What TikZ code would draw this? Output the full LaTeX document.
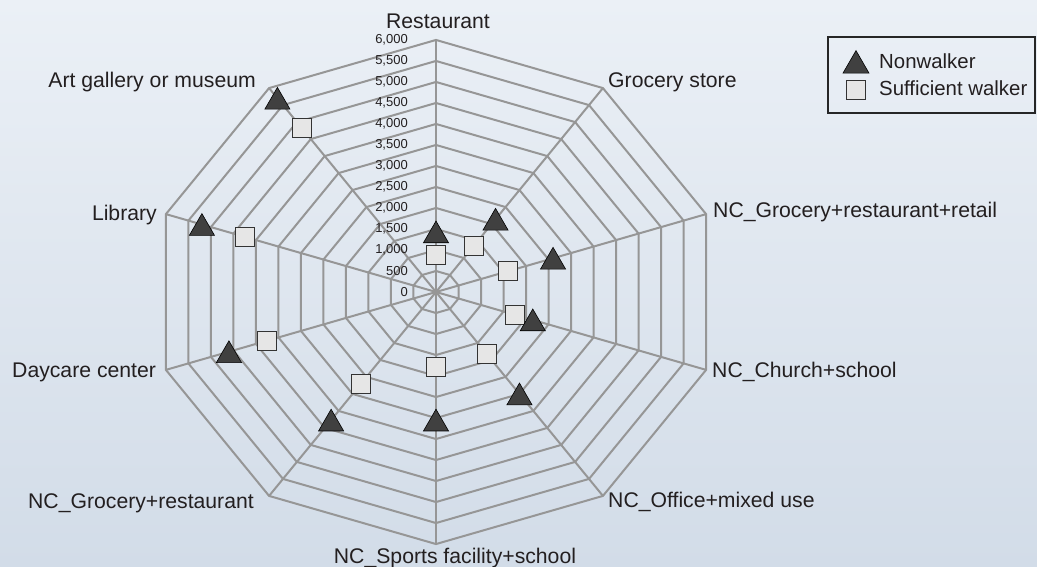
\documentclass[tikz,border=0pt]{standalone}
\usepackage{fontspec}
\setmainfont{Liberation Sans}
\usetikzlibrary{shapes.geometric}
\definecolor{bgtop}{RGB}{235,240,246}
\definecolor{bgbot}{RGB}{210,220,232}
\definecolor{gridc}{RGB}{150,150,150}
\definecolor{trifill}{RGB}{64,64,64}
\definecolor{sqfill}{RGB}{230,230,230}
\definecolor{txt}{RGB}{35,31,32}
\tikzset{
  gridline/.style={draw=gridc, line width=2pt, line join=miter},
  tri/.style={regular polygon, regular polygon sides=3, minimum size=29pt, inner sep=0pt, fill=trifill, draw=black, line width=0.6pt, yshift=-3.6pt},
  sq/.style={rectangle, minimum size=19pt, inner sep=0pt, fill=sqfill, draw=black!80, line width=1pt},
  axlabel/.style={font=\fontsize{21.2}{25}\selectfont, text=txt, inner sep=0pt},
  legendtext/.style={font=\fontsize{20.4}{24}\selectfont, text=txt, inner sep=0pt, anchor=base west},
  ticklabel/.style={font=\fontsize{13}{15}\selectfont, text=txt, anchor=east, inner sep=0pt},
  legendbox/.style={draw=black!85, line width=1.6pt}
}
\begin{document}
\begin{tikzpicture}[x=1pt,y=-1pt]
\shade[top color=bgtop,bottom color=bgbot] (0,0) rectangle (1037,567);
\useasboundingbox (0,0) rectangle (1037,567);
\begin{scope}[shift={(436,292)}, x={(0.047333pt,0pt)}, y={(0pt,0.042pt)}]
  \coordinate (c) at (0,0);
  \foreach \r in {500,1000,...,6000}{
    \draw[gridline] (90:\r) \foreach \i in {1,...,9}{ -- (90-\i*36:\r)} -- cycle;
  }
  \foreach \i in {0,...,9}{
    \coordinate (ax\i) at (90-\i*36:6000);
    \draw[gridline] (c) -- (ax\i);
  }
  \foreach \v/\t in {0/0,500/500,1000/{1,000},1500/{1,500},2000/{2,000},2500/{2,500},3000/{3,000},3500/{3,500},4000/{4,000},4500/{4,500},5000/{5,000},5500/{5,500},6000/{6,000}}{
    \node[ticklabel] (t\v) at ([xshift=-28pt]90:\v) {\t};
  }
  % Sufficient walker
  \node[sq] (s0) at (90:880) {};
  \node[sq] (s1) at (54:1355) {};
  \node[sq] (s2) at (18:1590) {};
  \node[sq] (s3) at (-18:1750) {};
  \node[sq] (s4) at (-54:1820) {};
  \node[sq] (s5) at (-90:1790) {};
  \node[sq] (s6) at (-126:2700) {};
  \node[sq] (s7) at (198:3750) {};
  \node[sq] (s8) at (162:4250) {};
  \node[sq] (s9) at (126:4820) {};
  % Nonwalker
  \node[tri] (n0) at (90:1430) {};
  \node[tri] (n1) at (54:2140) {};
  \node[tri] (n2) at (18:2600) {};
  \node[tri] (n3) at (-18:2150) {};
  \node[tri] (n4) at (-54:3000) {};
  \node[tri] (n5) at (-90:3050) {};
  \node[tri] (n6) at (-126:3770) {};
  \node[tri] (n7) at (198:4600) {};
  \node[tri] (n8) at (162:5200) {};
  \node[tri] (n9) at (126:5700) {};
\end{scope}
% axis labels
\node[axlabel, anchor=base] (l0) at (438,29) {Restaurant};
\node[axlabel, anchor=base west] (l1) at (608,88) {Grocery store};
\node[axlabel, anchor=base west] (l2) at (713,218) {NC\_Grocery+restaurant+retail};
\node[axlabel, anchor=base west] (l3) at (712,377) {NC\_Church+school};
\node[axlabel, anchor=base west] (l4) at (608,507) {NC\_Office+mixed use};
\node[axlabel, anchor=base] (l5) at (455,563) {NC\_Sports facility+school};
\node[axlabel, anchor=base east] (l6) at (254,508) {NC\_Grocery+restaurant};
\node[axlabel, anchor=base west] (l7) at (12,377) {Daycare center};
\node[axlabel, anchor=base east] (l8) at (157,220) {Library};
\node[axlabel, anchor=base east] (l9) at (256,88) {Art gallery or museum};
% legend
\draw[legendbox] (828,37) rectangle (1035,113);
\node[tri, minimum size=30pt] (lg1) at (856,62) {};
\node[sq] (lg2) at (856,90) {};
\node[legendtext] (lt1) at (879,69) {Nonwalker};
\node[legendtext] (lt2) at (879,96) {Sufficient walker};
\end{tikzpicture}
\end{document}
